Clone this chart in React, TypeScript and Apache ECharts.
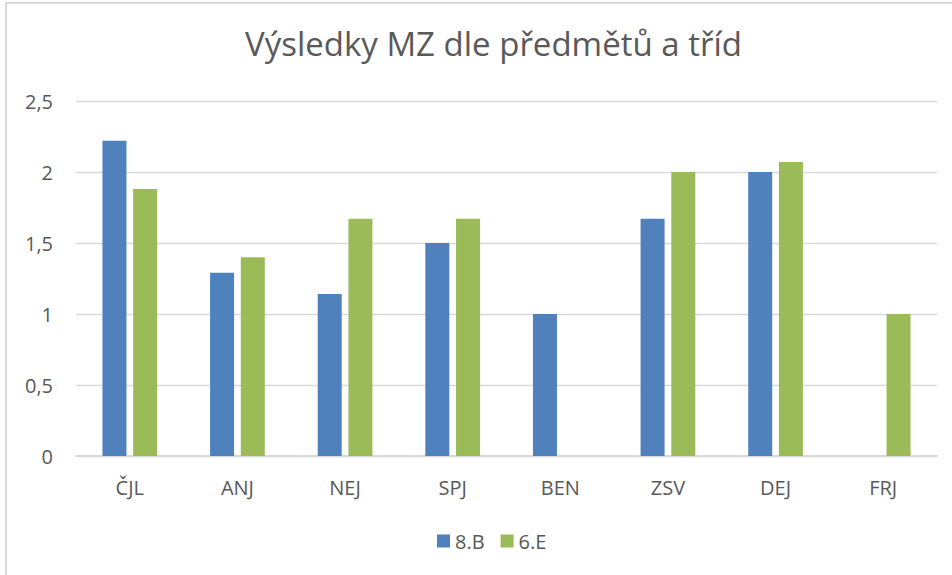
import React, { useEffect, useRef } from "react";
import * as echarts from "echarts";

const categories = ["ČJL", "ANJ", "NEJ", "SPJ", "BEN", "ZSV", "DEJ", "FRJ"];
const seriesNames = ["8.B", "6.E"];
const values8B: (number | null)[] = [2.22, 1.29, 1.14, 1.5, 1, 1.67, 2, null];
const values6E: (number | null)[] = [1.88, 1.4, 1.67, 1.67, null, 2, 2.07, 1];
const colors = ["#4f81bd", "#9bbb59"];
const titleText = "Výsledky MZ dle předmětů a tříd";

export default function App() {
  const ref = useRef<HTMLDivElement>(null);
  useEffect(() => {
    if (!ref.current) return;
    const chart = echarts.init(ref.current, undefined, { renderer: "svg" });
    const font = "'Open Sans', 'DejaVu Sans', sans-serif";
    chart.setOption({
      animation: false,
      backgroundColor: "#ffffff",
      title: {
        text: titleText,
        left: 240,
        top: 22,
        textStyle: { fontFamily: font, fontSize: 33, fontWeight: "normal", color: "#595959" },
      },
      legend: {
        data: seriesNames,
        top: 526,
        left: 432,
        itemWidth: 13,
        itemHeight: 13,
        itemGap: 16,
        icon: "rect",
        textStyle: { fontFamily: font, fontSize: 20, color: "#595959" },
      },
      grid: { left: 76, right: 15, top: 101, bottom: 119, containLabel: false },
      xAxis: {
        type: "category",
        data: categories,
        axisTick: { show: false },
        axisLine: { lineStyle: { color: "#d9d9d9", width: 2 } },
        axisLabel: { fontFamily: font, fontSize: 20, color: "#595959", margin: 21 },
      },
      yAxis: {
        type: "value",
        min: 0,
        max: 2.5,
        interval: 0.5,
        axisLine: { show: false },
        axisTick: { show: false },
        splitLine: { lineStyle: { color: "#d9d9d9", width: 1.3 } },
        axisLabel: {
          fontFamily: font,
          fontSize: 20,
          color: "#595959",
          margin: 23,
          formatter: (v: number) => String(v).replace(".", ","),
        },
      },
      series: [
        {
          name: seriesNames[0],
          type: "bar",
          data: values8B,
          barWidth: 24,
          barGap: "28%",
          itemStyle: { color: colors[0] },
        },
        {
          name: seriesNames[1],
          type: "bar",
          data: values6E,
          barWidth: 24,
          itemStyle: { color: colors[1] },
        },
      ],
      graphic: [
        { type: "line", shape: { x1: 5, y1: 3, x2: 952, y2: 3 }, style: { stroke: "#d9d9d9", lineWidth: 2 } },
        { type: "line", shape: { x1: 6, y1: 3, x2: 6, y2: 575 }, style: { stroke: "#d9d9d9", lineWidth: 2 } },
      ],
    });
    return () => chart.dispose();
  }, []);
  return <div ref={ref} style={{ width: 952, height: 575, position: "absolute", left: 0, top: 0 }} />;
}
